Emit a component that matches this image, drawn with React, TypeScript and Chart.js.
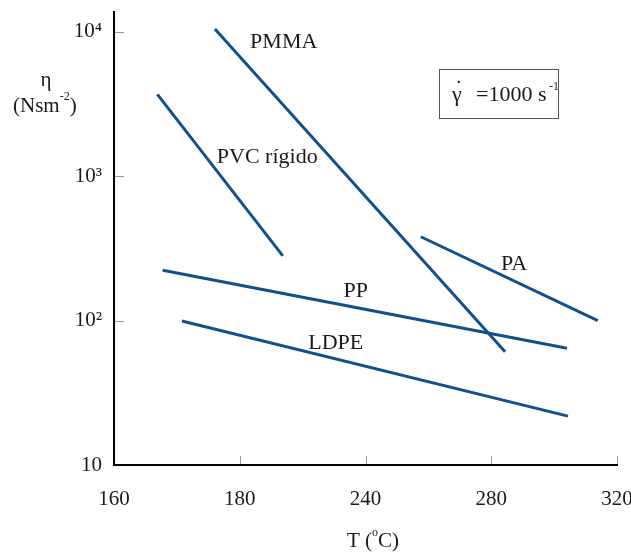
import React, { useEffect, useRef } from "react";
import { Chart, registerables } from "chart.js";

Chart.register(...registerables);

// ---- data ----
const xTickValues = [160, 200, 240, 280, 320];
const xTickLabels = ["160", "180", "240", "280", "320"];
const yTickValues = [10, 100, 1000, 10000];
const yTickLabels = ["10", "10²", "10³", "10⁴"];

const seriesNames = ["PMMA", "PVC rígido", "PP", "LDPE", "PA"];
const pmmaT = [192.1, 284.4];
const pmmaEta = [10400, 60.8];
const pvcT = [173.8, 213.7];
const pvcEta = [3670, 280];
const ppT = [175.5, 304.1];
const ppEta = [223, 64.3];
const ldpeT = [181.6, 304.4];
const ldpeEta = [99.3, 21.8];
const paT = [257.6, 313.9];
const paEta = [380, 99.8];

// label anchors (T, eta) for the series names
const labelT = [203.3, 192.7, 233.0, 221.8, 283.1];
const labelEta = [7690, 1225, 144.9, 63.3, 223];

const FONT = "'Liberation Serif', 'Times New Roman', serif";
const LINE_COLOR = "#11508a";

function pts(xs: number[], ys: number[]) {
  return xs.map((x, i) => ({ x, y: ys[i] }));
}

const overlayPlugin = {
  id: "overlay",
  afterDatasetsDraw(chart: any) {
    const ctx = chart.ctx as CanvasRenderingContext2D;
    const xs = chart.scales.x;
    const ys = chart.scales.y;
    const area = chart.chartArea;
    ctx.save();
    // inner tick marks
    ctx.strokeStyle = "#9a9a9a";
    ctx.lineWidth = 1;
    yTickValues.forEach((v) => {
      if (v === 10) return;
      const py = Math.round(ys.getPixelForValue(v)) + 0.5;
      ctx.beginPath();
      ctx.moveTo(area.left + 1, py);
      ctx.lineTo(area.left + 10, py);
      ctx.stroke();
    });
    xTickValues.forEach((v) => {
      if (v === 160) return;
      const px = Math.round(xs.getPixelForValue(v)) + 0.5;
      ctx.beginPath();
      ctx.moveTo(px, area.bottom - 1);
      ctx.lineTo(px, area.bottom - 9);
      ctx.stroke();
    });

    // series labels
    ctx.fillStyle = "#1a1a1a";
    ctx.font = `22px ${FONT}`;
    ctx.textAlign = "left";
    ctx.textBaseline = "alphabetic";
    seriesNames.forEach((name, i) => {
      ctx.fillText(name, xs.getPixelForValue(labelT[i]), ys.getPixelForValue(labelEta[i]));
    });

    // shear-rate box
    ctx.strokeStyle = "#555";
    ctx.lineWidth = 1;
    ctx.strokeRect(439.5, 69.5, 119, 49);
    ctx.font = `22px ${FONT}`;
    ctx.fillText("γ", 452, 101);
    ctx.fillText("˙", 455, 95);
    ctx.fillText("=1000 s", 476, 101);
    ctx.font = `12px ${FONT}`;
    ctx.fillText("-1", 549, 90);

    // y axis title
    ctx.font = `21px ${FONT}`;
    ctx.textAlign = "center";
    ctx.fillText("η", 46, 86);
    ctx.textAlign = "left";
    ctx.fillText("(Nsm", 13, 112);
    const w = ctx.measureText("(Nsm").width;
    ctx.font = `12px ${FONT}`;
    ctx.fillText("-2", 13 + w, 100);
    const w2 = ctx.measureText("-2").width;
    ctx.font = `21px ${FONT}`;
    ctx.fillText(")", 13 + w + w2, 112);

    // x axis title
    ctx.textAlign = "left";
    ctx.fillText("T (", 347, 547);
    const wt = ctx.measureText("T (").width;
    ctx.font = `12px ${FONT}`;
    ctx.fillText("o", 347 + wt, 536);
    const wo = ctx.measureText("o").width;
    ctx.font = `21px ${FONT}`;
    ctx.fillText("C)", 347 + wt + wo, 547);
    ctx.restore();
  },
};

export default function App() {
  const ref = useRef<HTMLCanvasElement>(null);
  useEffect(() => {
    if (!ref.current) return;
    const mk = (label: string, xs: number[], ys: number[]) => ({
      label,
      data: pts(xs, ys),
      showLine: true,
      borderColor: LINE_COLOR,
      borderWidth: 3,
      pointRadius: 0,
      fill: false,
    });
    const chart = new Chart(ref.current, {
      type: "scatter",
      data: {
        datasets: [
          mk(seriesNames[0], pmmaT, pmmaEta),
          mk(seriesNames[1], pvcT, pvcEta),
          mk(seriesNames[2], ppT, ppEta),
          mk(seriesNames[3], ldpeT, ldpeEta),
          mk(seriesNames[4], paT, paEta),
        ],
      },
      options: {
        animation: false,
        responsive: false,
        layout: { padding: { top: 12, right: 14, left: 0, bottom: 0 } },
        plugins: { legend: { display: false }, tooltip: { enabled: false } },
        scales: {
          x: {
            type: "linear",
            min: 160,
            max: 320,
            grid: { display: false, drawTicks: false },
            border: { display: true, color: "#000", width: 2 },
            afterBuildTicks: (s: any) => {
              s.ticks = xTickValues.map((v) => ({ value: v }));
            },
            afterFit: (s: any) => {
              s.height = 87;
              s.paddingLeft = 0;
              s.paddingRight = 0;
            },
            ticks: {
              padding: 22,
              maxRotation: 0,
              autoSkip: false,
              color: "#1a1a1a",
              font: { family: FONT, size: 21 },
              callback: (_v: any, i: number) => xTickLabels[i],
            },
          },
          y: {
            type: "logarithmic",
            min: 10,
            max: 13650,
            grid: { display: false, drawTicks: false },
            border: { display: true, color: "#000", width: 2 },
            afterBuildTicks: (s: any) => {
              s.ticks = yTickValues.map((v) => ({ value: v }));
            },
            afterFit: (s: any) => {
              s.width = 114;
              s.paddingTop = 0;
              s.paddingBottom = 0;
            },
            ticks: {
              padding: 12,
              autoSkip: false,
              color: "#1a1a1a",
              font: { family: FONT, size: 21 },
              callback: (_v: any, i: number) => yTickLabels[i],
            },
          },
        },
      },
      plugins: [overlayPlugin],
    });
    return () => chart.destroy();
  }, []);
  return (
    <div style={{ position: "fixed", left: 0, top: 0, width: 631, height: 552, background: "#fff" }}>
      <canvas ref={ref} width={631} height={552} />
    </div>
  );
}
